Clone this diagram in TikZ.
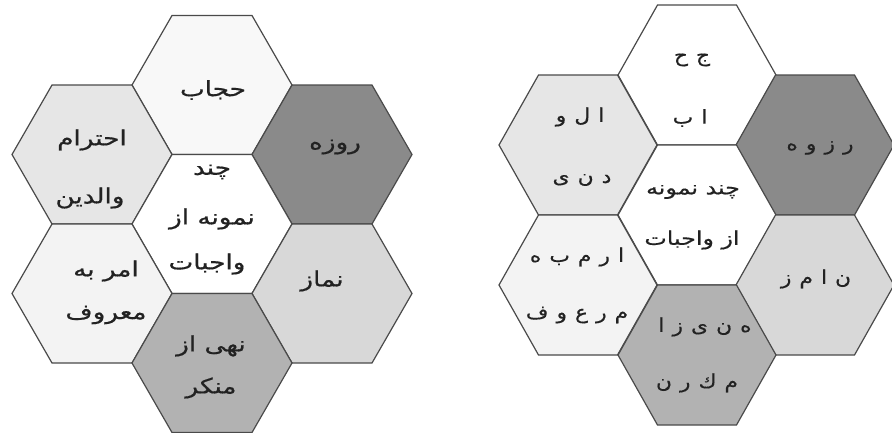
\documentclass[tikz,border=0pt]{standalone}
\usepackage{fontspec}
\newfontfamily\arabicfont[Script=Arabic,FakeStretch=1.25,FakeBold=0.6]{DejaVu Sans}
\newfontfamily\letterfont[Script=Arabic,FakeStretch=1.15,FakeBold=0.4]{DejaVu Sans}
\newfontfamily\centerfont[Script=Arabic,FakeStretch=1.25,FakeBold=0.4]{DejaVu Sans}
\TeXXeTstate=1
\definecolor{edgegray}{HTML}{4A4A4A}
\definecolor{txtgray}{HTML}{222222}
\definecolor{cWhite}{HTML}{FFFFFF}
\definecolor{cTop}{HTML}{F8F8F8}
\definecolor{cDark}{HTML}{8A8A8A}
\definecolor{cLight}{HTML}{E6E6E6}
\definecolor{cPale}{HTML}{F3F3F3}
\definecolor{cMid}{HTML}{D8D8D8}
\definecolor{cMidDark}{HTML}{B2B2B2}
\tikzset{
  hexline/.style={draw=edgegray, line width=1.2pt, line join=miter},
  lbl/.style={inner sep=0pt, text=txtgray, font=\arabicfont\fontsize{21}{24}\selectfont},
  lbls/.style={inner sep=0pt, text=txtgray, font=\letterfont\fontsize{19}{22}\selectfont},
  lblc/.style={inner sep=0pt, text=txtgray, font=\centerfont\fontsize{19}{22}\selectfont},
}
% #1 cx, #2 cy, #3 half width, #4 half height, #5 fill
\newcommand\hexcell[5]{%
  \filldraw[hexline, fill=#5] ({#1-#3},#2) -- ({#1-#3/2},{#2-#4}) -- ({#1+#3/2},{#2-#4})
    -- ({#1+#3},#2) -- ({#1+#3/2},{#2+#4}) -- ({#1-#3/2},{#2+#4}) -- cycle;}
\newcommand\gp{\hskip 8pt}
\begin{document}
\begin{tikzpicture}[x=1pt,y=-1pt]
\useasboundingbox (0,0) rectangle (892,432);
% ---------- left cluster ----------
\hexcell{212}{85}{80}{69.5}{cTop}
\hexcell{92}{154.5}{80}{69.5}{cLight}
\hexcell{332}{154.5}{80}{69.5}{cDark}
\hexcell{212}{224}{80}{69.5}{cWhite}
\hexcell{92}{293.5}{80}{69.5}{cPale}
\hexcell{332}{293.5}{80}{69.5}{cMid}
\hexcell{212}{363}{80}{69.5}{cMidDark}
\node[lbl] (lt) at (213,90) {\beginR حجاب\endR};
\node[lbl] (lul1) at (92,140) {\beginR احترام\endR};
\node[lbl] (lul2) at (90,198) {\beginR والدین\endR};
\node[lbl] (lur) at (335,147) {\beginR روزه\endR};
\node[lbl] (lc1) at (212,172) {\beginR چند\endR};
\node[lbl] (lc2) at (212,219) {\beginR نمونه از\endR};
\node[lbl] (lc3) at (207,264) {\beginR واجبات\endR};
\node[lbl] (lll1) at (106,271) {\beginR امر به\endR};
\node[lbl] (lll2) at (106,315) {\beginR معروف\endR};
\node[lbl] (llr) at (322,281) {\beginR نماز\endR};
\node[lbl] (lb1) at (211,346) {\beginR نهی از\endR};
\node[lbl] (lb2) at (211,388) {\beginR منکر\endR};
% ---------- right cluster ----------
\hexcell{697}{75}{79}{70}{cWhite}
\hexcell{578}{145}{79}{70}{cLight}
\hexcell{815}{145}{79}{70}{cDark}
\hexcell{697}{215}{79}{70}{cWhite}
\hexcell{578}{285}{79}{70}{cPale}
\hexcell{815}{285}{79}{70}{cMid}
\hexcell{697}{355}{79}{70}{cMidDark}
% spaced letters, typed in their left-to-right visual order
\node[lbls] (rt1) at (692,60) {ح\gp ج};
\node[lbls] (rt2) at (690,118) {ب\gp ا};
\node[lbls] (rul1) at (580,117) {و\gp ل\gp ا};
\node[lbls] (rul2) at (582,180) {ی\gp ن\gp د};
\node[lbls] (rur) at (820,148) {ه\gp و\gp ز\gp ر};
\node[lblc] (rc1) at (693,192) {\beginR چند نمونه\endR};
\node[lblc] (rc2) at (692,240) {\beginR از واجبات\endR};
\node[lbls] (rll1) at (577,257) {ه\gp ب\gp م\gp ر\gp ا};
\node[lbls] (rll2) at (577,315) {ف\gp و\gp ع\gp ر\gp م};
\node[lbls] (rlr) at (816,279) {ز\gp م\gp ا\gp ن};
\node[lbls] (rb1) at (705,327) {ا\gp ز\gp ی\gp ن\gp ه};
\node[lbls] (rb2) at (697,383) {ن\gp ر\gp ك\gp م};
\end{tikzpicture}
\end{document}
